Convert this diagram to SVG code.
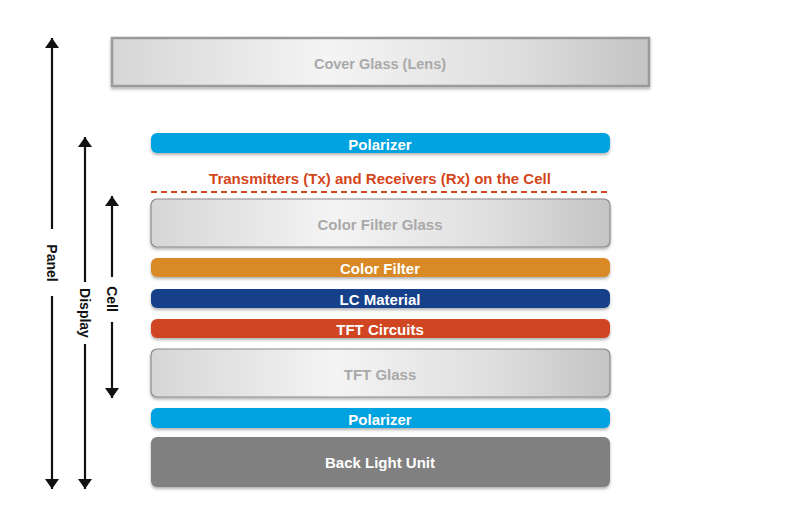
<svg xmlns="http://www.w3.org/2000/svg" width="800" height="523" viewBox="0 0 800 523">
<style>
.lbl{font-family:"Liberation Sans",Arial,sans-serif;font-weight:bold;font-size:15px;text-anchor:middle}
.ax-lbl{font-size:14px;fill:#111}
.w{fill:#fff}
.g{fill:#a9a9a9}
.ax{stroke:#111;stroke-width:2.2;fill:none}
</style>
<defs>
<linearGradient id="glass" x1="0" y1="0" x2="1" y2="0">
<stop offset="0" stop-color="#d6d6d6"/>
<stop offset="0.4" stop-color="#f4f4f4"/>
<stop offset="0.75" stop-color="#dedede"/>
<stop offset="1" stop-color="#c4c4c4"/>
</linearGradient>
<filter id="sh" x="-5%" y="-30%" width="110%" height="170%">
<feDropShadow dx="0" dy="2" stdDeviation="1.8" flood-color="#000" flood-opacity="0.3"/>
</filter>
<marker id="ah" viewBox="0 0 10 14" refX="10" refY="7" markerWidth="10" markerHeight="14" markerUnits="userSpaceOnUse" orient="auto">
<path d="M0,0 L10,7 L0,14 z" fill="#111"/>
</marker>
</defs>

<g id="cover-glass">
<rect x="112" y="38" width="537" height="48" fill="url(#glass)" stroke="#9a9a9a" stroke-width="2.5" filter="url(#sh)"/>
<text class="lbl g" x="380" y="69" style="font-size:14.5px">Cover Glass (Lens)</text>
</g>

<g id="polarizer-top">
<rect x="151" y="133" width="459" height="20" rx="6" fill="#00a3df" filter="url(#sh)"/>
<text class="lbl w" x="380" y="149.5">Polarizer</text>
</g>

<g id="tx-rx">
<text class="lbl" x="380" y="184" fill="#d3461c">Transmitters (Tx) and Receivers (Rx) on the Cell</text>
<line x1="151" y1="192" x2="610" y2="192" stroke="#d3461c" stroke-width="2" stroke-dasharray="6,4"/>
</g>

<g id="color-filter-glass">
<rect x="151" y="199" width="459" height="48" rx="6" fill="url(#glass)" stroke="#8a8a8a" stroke-width="1.2" filter="url(#sh)"/>
<text class="lbl g" x="380" y="229.5">Color Filter Glass</text>
</g>

<g id="color-filter">
<rect x="151" y="258" width="459" height="19" rx="6" fill="#d98a28" filter="url(#sh)"/>
<text class="lbl w" x="380" y="273.5">Color Filter</text>
</g>

<g id="lc-material">
<rect x="151" y="289" width="459" height="19" rx="6" fill="#15418a" filter="url(#sh)"/>
<text class="lbl w" x="380" y="304.5">LC Material</text>
</g>

<g id="tft-circuits">
<rect x="151" y="319" width="459" height="19" rx="6" fill="#d04520" filter="url(#sh)"/>
<text class="lbl w" x="380" y="334.5">TFT Circuits</text>
</g>

<g id="tft-glass">
<rect x="151" y="349" width="459" height="48" rx="6" fill="url(#glass)" stroke="#8a8a8a" stroke-width="1.2" filter="url(#sh)"/>
<text class="lbl g" x="380" y="380">TFT Glass</text>
</g>

<g id="polarizer-bottom">
<rect x="151" y="408" width="459" height="20" rx="6" fill="#00a3df" filter="url(#sh)"/>
<text class="lbl w" x="380" y="424.5">Polarizer</text>
</g>

<g id="back-light-unit">
<rect x="151" y="437" width="459" height="50" rx="6" fill="#808080" filter="url(#sh)"/>
<text class="lbl w" x="380" y="468">Back Light Unit</text>
</g>

<g id="connectors">
<line class="ax" x1="52" y1="229" x2="52" y2="38" marker-end="url(#ah)"/>
<line class="ax" x1="52" y1="296" x2="52" y2="489" marker-end="url(#ah)"/>
<line class="ax" x1="85" y1="282" x2="85" y2="137" marker-end="url(#ah)"/>
<line class="ax" x1="85" y1="344" x2="85" y2="489" marker-end="url(#ah)"/>
<line class="ax" x1="112" y1="277" x2="112" y2="196" marker-end="url(#ah)"/>
<line class="ax" x1="112" y1="322" x2="112" y2="398" marker-end="url(#ah)"/>
</g>

<g id="axis-labels">
<text class="lbl ax-lbl" transform="translate(47,263) rotate(90)">Panel</text>
<text class="lbl ax-lbl" transform="translate(80,313) rotate(90)">Display</text>
<text class="lbl ax-lbl" transform="translate(107,299) rotate(90)">Cell</text>
</g>
</svg>
